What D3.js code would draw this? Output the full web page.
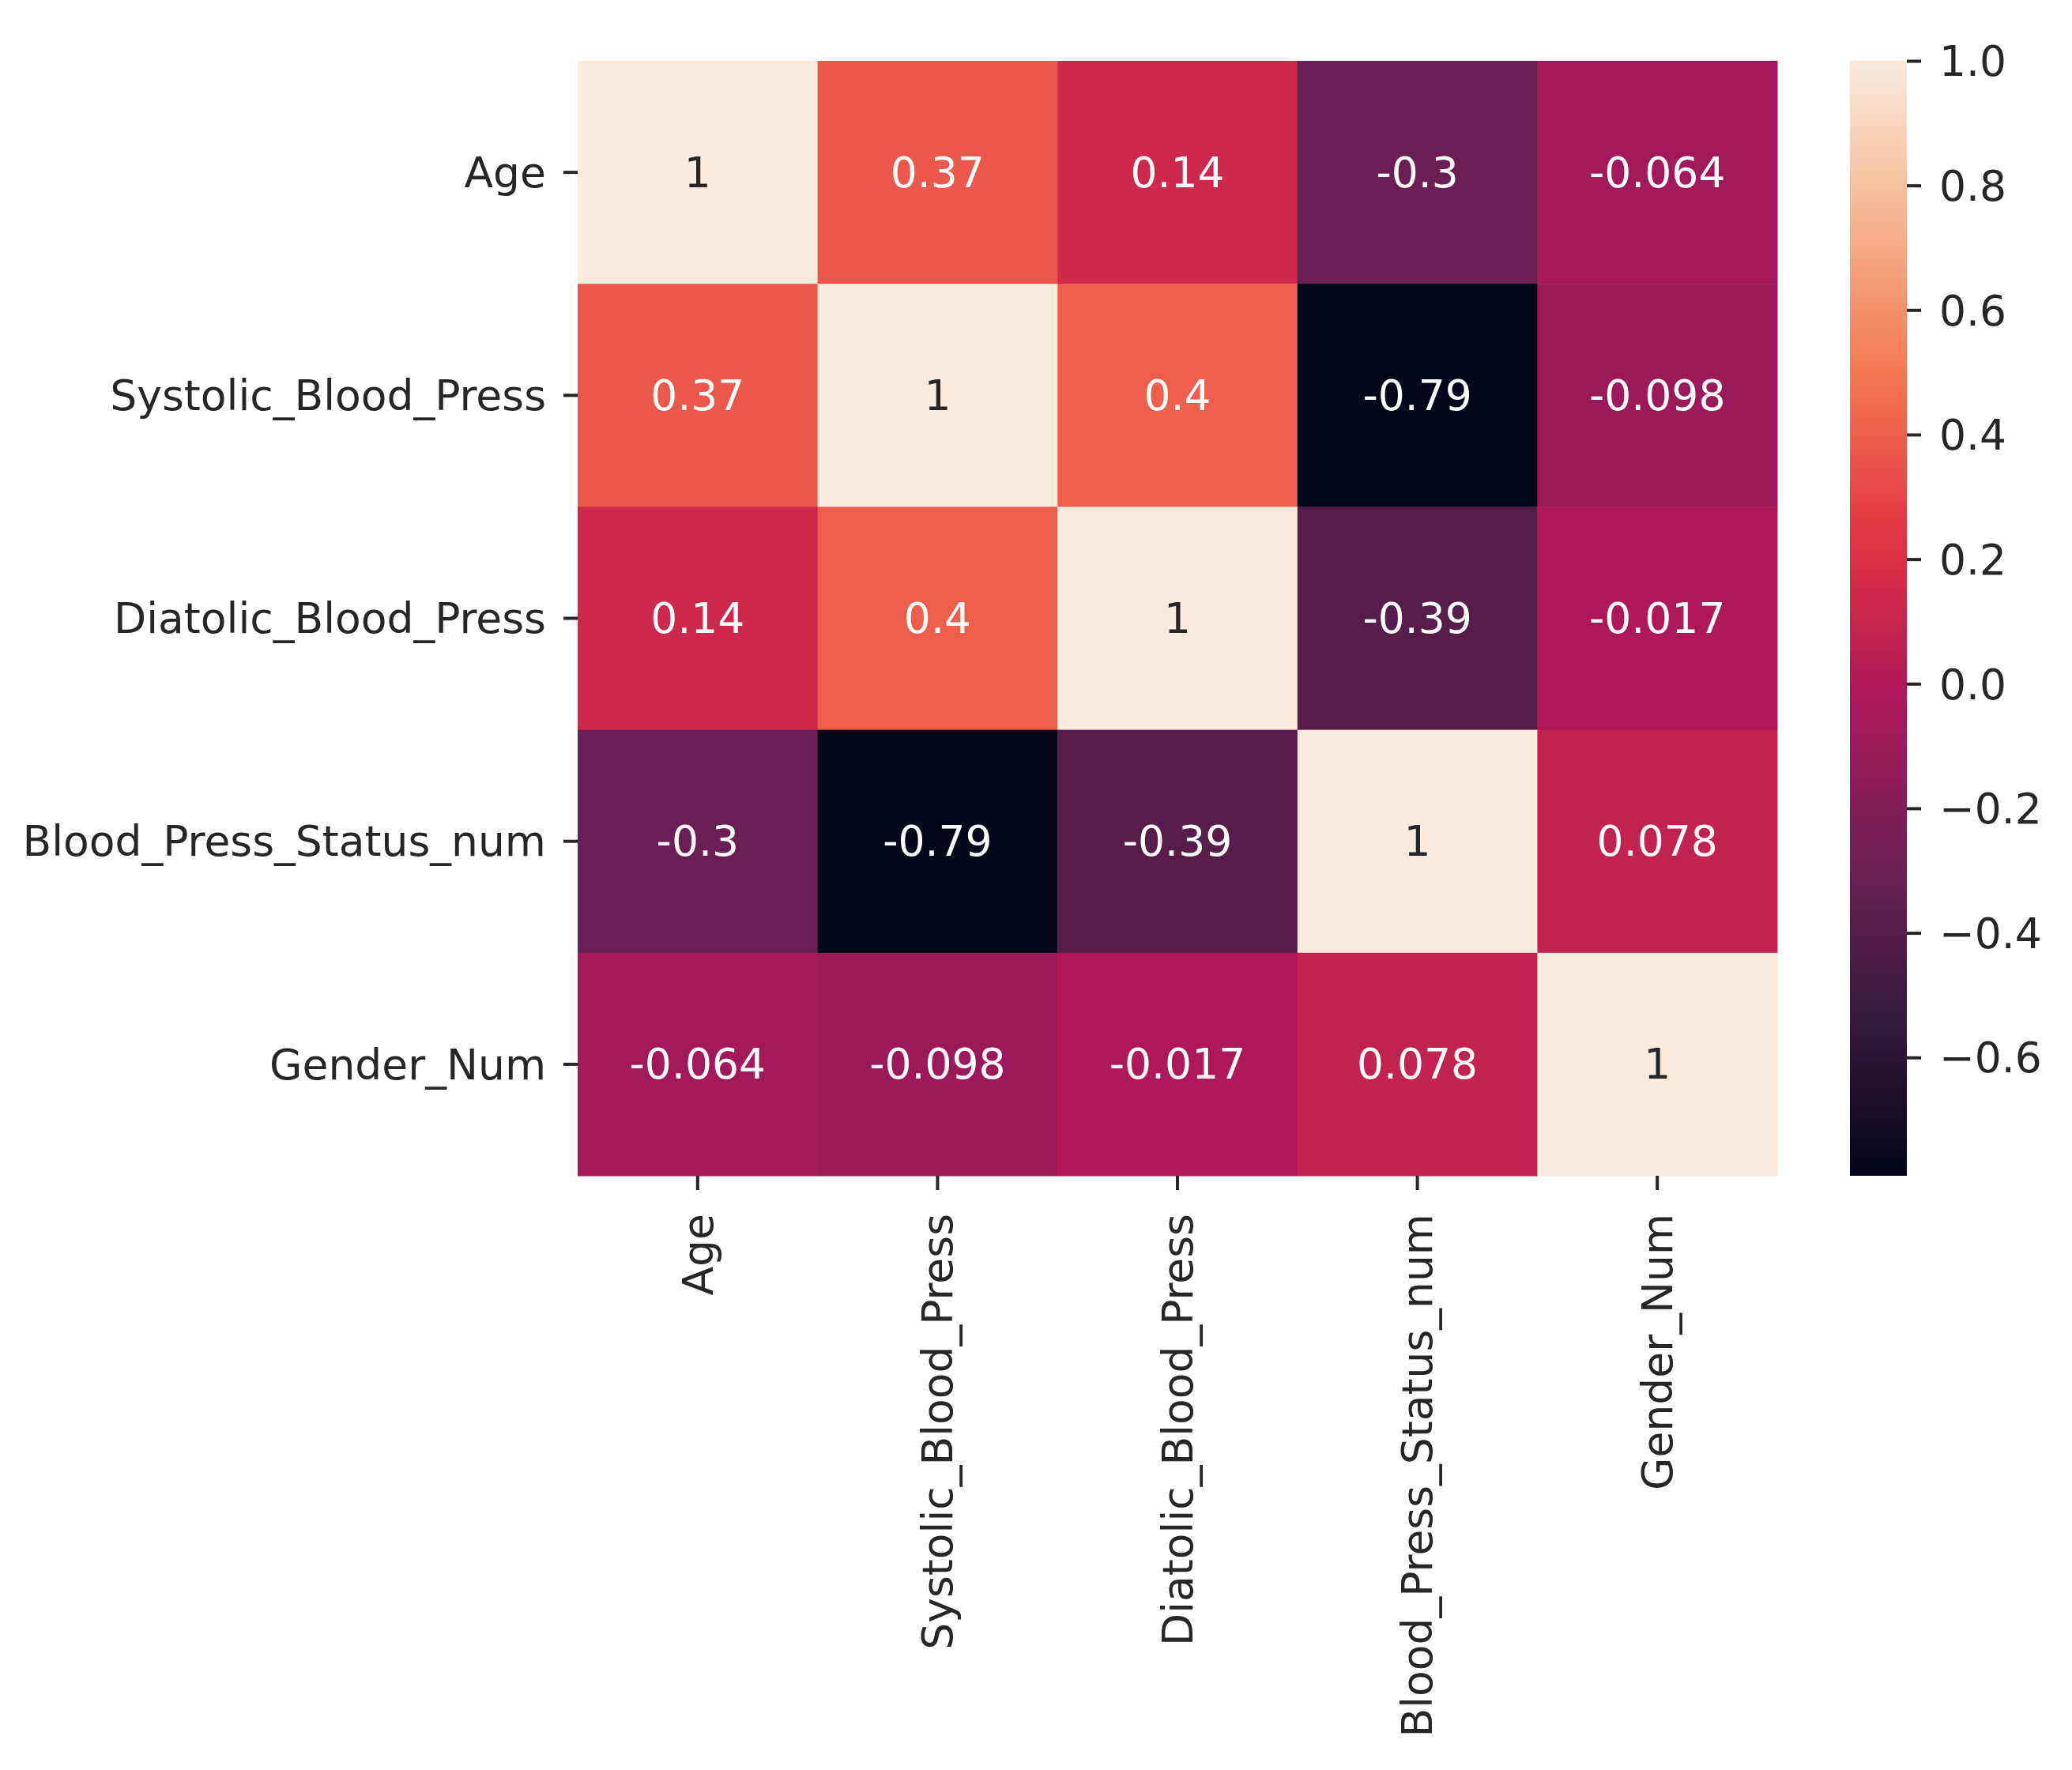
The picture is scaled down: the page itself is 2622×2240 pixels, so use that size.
<!DOCTYPE html>
<html>
<head>
<meta charset="utf-8">
<script src="https://cdn.jsdelivr.net/npm/d3@7"></script>
<style>
  html, body { margin: 0; padding: 0; background: #ffffff; }
  svg { display: block; }
  text { font-family: "DejaVu Sans", sans-serif; }
</style>
</head>
<body>
<svg id="chart" width="2622" height="2240"></svg>
<script>
// ---- data ----
const variables = ["Age", "Systolic_Blood_Press", "Diatolic_Blood_Press", "Blood_Press_Status_num", "Gender_Num"];
const rowAge      = [1, 0.37, 0.14, -0.3, -0.064];
const rowSystolic = [0.37, 1, 0.4, -0.79, -0.098];
const rowDiatolic = [0.14, 0.4, 1, -0.39, -0.017];
const rowStatus   = [-0.3, -0.79, -0.39, 1, 0.078];
const rowGender   = [-0.064, -0.098, -0.017, 0.078, 1];
const colorbarTicks = [1.0, 0.8, 0.6, 0.4, 0.2, 0.0, -0.2, -0.4, -0.6];
const vmin = -0.79, vmax = 1.0;
// rocket colormap reference colours
const rocketStops = ["#03051a", "#35193e", "#701f57", "#ad1759", "#e13342", "#f37651", "#f6b48f", "#faebdd"];

const matrix = [rowAge, rowSystolic, rowDiatolic, rowStatus, rowGender];

(function () {
// ---- layout ----
const W = 2622, H = 2240;
const pL = 731, pR = 2249, pT = 77, pB = 1488;
const cbLeft = 2341, cbRight = 2413;
const fontSize = 53.5, tickLen = 18, textColor = "#262626";

const svg = d3.select("#chart");
svg.append("rect").attr("width", W).attr("height", H).attr("fill", "#fff");

const x = d3.scaleBand().domain(variables).range([pL, pR]).padding(0);
const y = d3.scaleBand().domain(variables).range([pT, pB]).padding(0);

const rocket = d3.scaleLinear()
  .domain(rocketStops.map((_, i) => i / (rocketStops.length - 1)))
  .range(rocketStops)
  .interpolate(d3.interpolateRgb);
const color = v => rocket((v - vmin) / (vmax - vmin));

const fmt = d3.formatLocale({decimal: ".", thousands: ",", grouping: [3], currency: ["", ""], minus: "-"}).format(".2~g");

function luminance(c) {
  const rgb = d3.rgb(c);
  const f = u => { u /= 255; return u <= 0.03928 ? u / 12.92 : Math.pow((u + 0.055) / 1.055, 2.4); };
  return 0.2126 * f(rgb.r) + 0.7152 * f(rgb.g) + 0.0722 * f(rgb.b);
}

const cells = [];
matrix.forEach((row, i) => row.forEach((v, j) => cells.push({r: variables[i], c: variables[j], v})));

const g = svg.append("g");
g.selectAll("rect.cell").data(cells).join("rect")
  .attr("class", "cell")
  .attr("x", d => x(d.c))
  .attr("y", d => y(d.r))
  .attr("width", x.bandwidth() + 0.5)
  .attr("height", y.bandwidth() + 0.5)
  .attr("fill", d => color(d.v));

g.selectAll("text.annot").data(cells).join("text")
  .attr("class", "annot")
  .attr("x", d => x(d.c) + x.bandwidth() / 2)
  .attr("y", d => y(d.r) + y.bandwidth() / 2)
  .attr("text-anchor", "middle")
  .attr("dominant-baseline", "central")
  .attr("font-size", fontSize)
  .attr("fill", d => luminance(color(d.v)) > 0.408 ? textColor : "#ffffff")
  .text(d => fmt(d.v));

// y axis
const yAxis = svg.append("g").attr("transform", `translate(${pL},0)`)
  .call(d3.axisLeft(y).tickSize(tickLen).tickPadding(22));
yAxis.select(".domain").remove();
yAxis.selectAll(".tick line").attr("stroke", textColor).attr("stroke-width", 4);
yAxis.selectAll(".tick text").attr("font-size", fontSize).attr("fill", textColor)
  .attr("font-family", "DejaVu Sans").attr("dy", "0.35em");

// x axis
const xPad = 30;
const xAxis = svg.append("g").attr("transform", `translate(0,${pB})`)
  .call(d3.axisBottom(x).tickSize(tickLen).tickPadding(xPad));
xAxis.select(".domain").remove();
xAxis.selectAll(".tick line").attr("stroke", textColor).attr("stroke-width", 4);
xAxis.selectAll(".tick text")
  .attr("font-size", fontSize).attr("fill", textColor).attr("font-family", "DejaVu Sans")
  .attr("y", 0).attr("dy", "0.35em")
  .attr("text-anchor", "end")
  .attr("transform", `translate(0,${tickLen + xPad}) rotate(-90)`);

// colorbar
const cbScale = d3.scaleLinear().domain([vmin, vmax]).range([pB, pT]);
const defs = svg.append("defs");
const grad = defs.append("linearGradient").attr("id", "cbgrad")
  .attr("x1", 0).attr("y1", 1).attr("x2", 0).attr("y2", 0);
d3.range(0, 1.0001, 0.02).forEach(t => {
  grad.append("stop").attr("offset", t).attr("stop-color", color(vmin + t * (vmax - vmin)));
});
svg.append("rect")
  .attr("x", cbLeft).attr("y", cbScale(vmax))
  .attr("width", cbRight - cbLeft).attr("height", cbScale(vmin) - cbScale(vmax))
  .attr("fill", "url(#cbgrad)");

const cbAxis = svg.append("g").attr("transform", `translate(${cbRight},0)`)
  .call(d3.axisRight(cbScale).tickValues(colorbarTicks).tickFormat(d3.format(".1f"))
    .tickSize(tickLen).tickPadding(23));
cbAxis.select(".domain").remove();
cbAxis.selectAll(".tick line").attr("stroke", textColor).attr("stroke-width", 4);
cbAxis.selectAll(".tick text").attr("font-size", fontSize).attr("fill", textColor)
  .attr("font-family", "DejaVu Sans").attr("dy", "0.35em");
})();
</script>
</body>
</html>
